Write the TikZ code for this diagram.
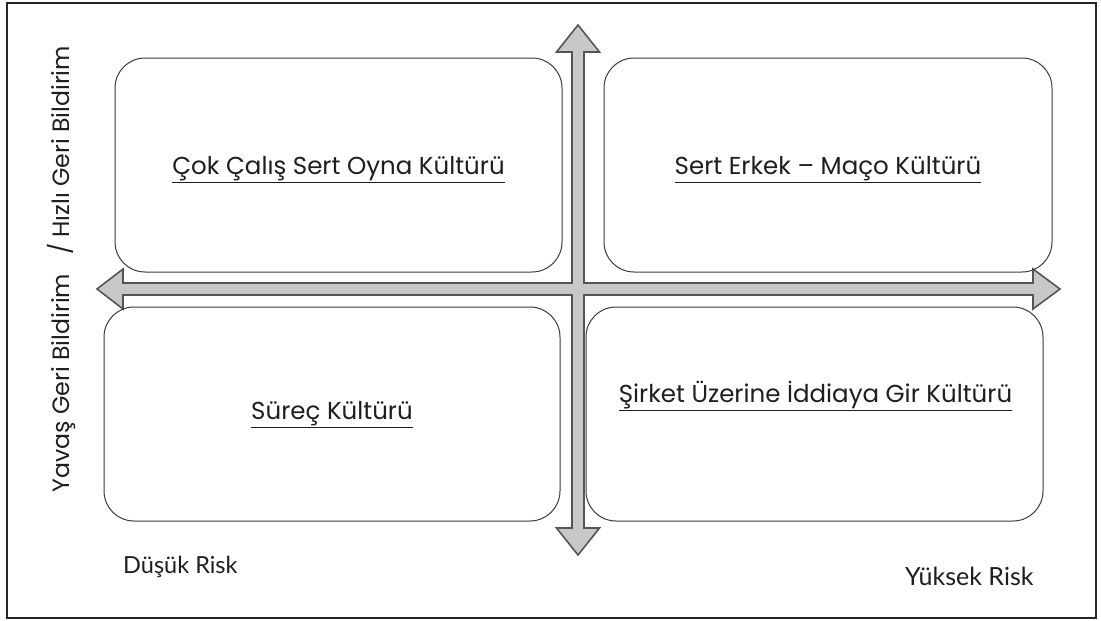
\documentclass[tikz,border=0pt]{standalone}
\usepackage{fontspec}
\setmainfont{Poppins}
\newfontfamily\axisfont{Lato}
\definecolor{arrowfill}{HTML}{C8C8C8}
\definecolor{arrowline}{HTML}{555555}
\definecolor{boxline}{HTML}{3A3A3A}
\definecolor{inktext}{HTML}{1E1E1E}
\newcommand{\qsize}[1]{\fontsize{#1}{#1}\selectfont}
\begin{document}
\begin{tikzpicture}[x=1pt,y=-1pt,
  quadbox/.style={draw=boxline, line width=1pt, rounded corners=30pt, inner sep=0pt},
  quadtext/.style={text=inktext, inner sep=0pt, font=\qsize{24.5}},
  risktext/.style={text=inktext, inner sep=0pt, anchor=base west},
  axisarrow/.style={fill=arrowfill, draw=arrowline, line width=1.6pt, line join=miter}]
  \useasboundingbox (0,0) rectangle (1101,621);
  % outer frame
  \draw[line width=2.2pt, black!85] (7,3) rectangle (1096,618);

  % crossing double-headed axes, one outline
  \draw[axisarrow]
    (578,25) -- (599.5,52) -- (584,52) -- (584,283) -- (1033,283) -- (1033,269)
    -- (1060,289) -- (1033,309) -- (1033,295) -- (584,295) -- (584,528)
    -- (599.5,528) -- (578,555) -- (556.5,528) -- (572,528) -- (572,295)
    -- (123,295) -- (123,309) -- (97,289) -- (123,269) -- (123,283)
    -- (572,283) -- (572,52) -- (556.5,52) -- cycle;

  % quadrant boxes
  \node[quadbox, minimum width=447pt, minimum height=214pt] (tl) at (338.5,165) {};
  \node[quadbox, minimum width=448pt, minimum height=214pt] (tr) at (828,165) {};
  \node[quadbox, minimum width=456pt, minimum height=214pt] (bl) at (332,414) {};
  \node[quadbox, minimum width=457pt, minimum height=214pt] (br) at (814.5,414) {};

  % quadrant labels
  \node[quadtext] (tlt) at (338.5,170) {\underline{Çok Çalış Sert Oyna Kültürü}};
  \node[quadtext] (trt) at (828,170) {\underline{Sert Erkek – Maço Kültürü}};
  \node[quadtext] (blt) at (332,415) {\underline{Süreç Kültürü}};
  \node[quadtext] (brt) at (815.5,396) {\underline{Şirket Üzerine İddiaya Gir Kültürü}};

  % axis labels
  \node[risktext, font=\axisfont\qsize{23.5}] (low) at (123,573) {Düşük Risk};
  \node[risktext, font=\axisfont\qsize{25}] (high) at (905,585) {Yüksek Risk};
  \node[text=inktext, font=\qsize{23.6}, inner sep=0pt, rotate=90]
    (fb) at (61,269) {Yavaş Geri Bildirim\ \ \ / Hızlı Geri Bildirim};
\end{tikzpicture}
\end{document}
